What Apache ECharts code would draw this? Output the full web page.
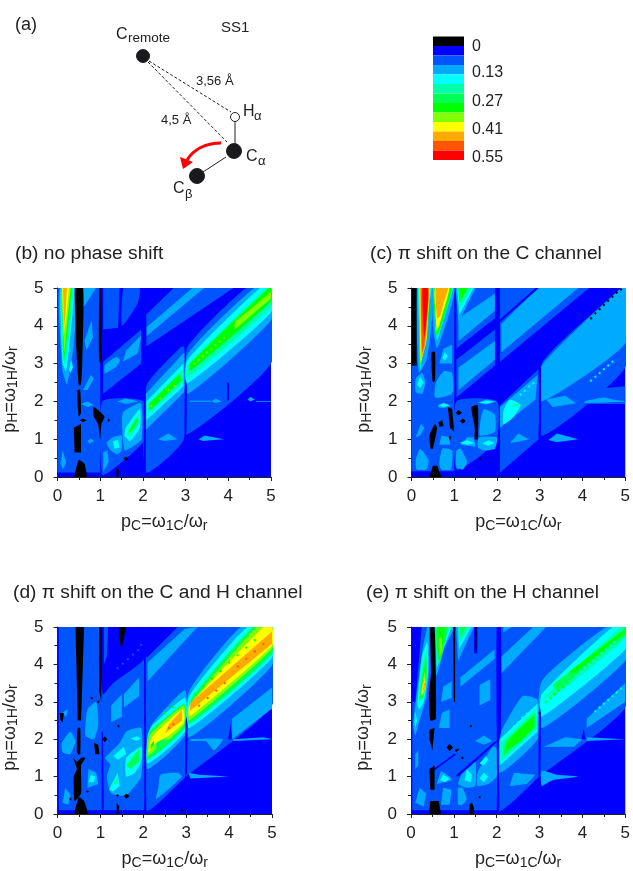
<!DOCTYPE html>
<html><head><meta charset="utf-8">
<style>html,body{margin:0;padding:0;background:#fff}#c{width:633px;height:871px;filter:blur(0.35px)}</style>
<script src="https://cdn.jsdelivr.net/npm/echarts@6/dist/echarts.min.js"></script>
</head><body><div id="c"></div>
<script>
const bandColors=['#000000','#0000ff','#0055ff','#00aaff','#00ffff','#00ffaa','#00ff55','#00ff00','#80ff00','#ffff00','#ffaa00','#ff5500','#ff0000'];
const legendTicks=[0,0.13,0.27,0.41,0.55];
const legendEdges=[-0.051,-0.004,0.043,0.09,0.137,0.184,0.231,0.278,0.325,0.372,0.419,0.466,0.513,0.56];
// contour regions, painted in order: [band, x,y, x,y, ...]; three entries = a small spot [band,x,y]
const contourB=[
[2,0,0.12,1.0,0.12,1.0,5,0,5],
[2,1.05,0.05,1.35,0.25,2.02,0.95,2.02,2.0,1.05,2.0],
[2,1.07,2.2,1.96,3.0,1.96,3.9,1.07,3.05],
[2,1.07,3.9,1.07,5,1.45,5,1.42,3.95],
[2,1.55,5,1.92,5,1.88,4.6,1.6,4.1,1.5,4.0],
[2,3.02,1.12,5,3.0,5,5,4.42,5,3.05,3.45,3.03,2.4],
[2,2.08,0.12,2.96,1.0,2.97,3.45,2.85,3.4,2.08,2.4],
[2,2.08,3.45,2.08,4.3,2.72,5,4.12,5],
[3,0.05,5,0.45,5,0.38,3.5,0.3,2.9,0.22,2.45,0.12,2.8,0.07,3.5],
[3,0.6,5,0.9,5,0.65,4.55,0.6,4.5],[3,0.63,3.6,0.8,4.15,0.83,3.7,0.68,3.35],
[3,0.6,2.3,0.78,2.7,0.85,2.6,0.7,2.3],[3,0.55,1.93,0.7,2.0,0.85,1.9,0.7,1.85],
[3,0.07,0.35,0.12,0.7,0.2,0.4,0.13,0.2],[3,0.7,0.95,0.78,1.02,0.85,0.95,0.75,0.88],
[3,1.07,0.13,1.07,0.65,1.17,0.7,1.2,0.4],[3,1.15,0.9,1.3,1.05,1.5,1.1,1.5,0.7,1.4,0.6,1.25,0.7],
[3,1.11,2.74,1.38,2.92,1.46,3.09,1.38,3.18,1.11,2.96],[3,1.53,3.05,1.88,3.27,1.96,3.75,1.61,3.35],
[3,1.53,1.7,1.95,1.95,1.97,1.0,1.75,0.8,1.58,0.7,1.53,1.0],
[3,2.07,1.25,2.97,2.25,2.97,3.3,2.07,2.2],
[3,3.04,2.2,5,4.15,5,5,4.6,5,3.05,3.25],
[3,2.09,3.73,2.09,3.97,3.16,5,3.43,5],
[3,1.4,2.0,1.6,2.08,1.9,2.0,1.6,1.93],[3,2.35,1.0,2.6,1.15,2.8,1.0,2.5,0.95],[3,3.3,1.0,3.45,1.1,3.9,1.0,3.4,0.95],
[3,3.6,2.0,3.7,2.08,3.85,2.0,3.7,1.96],[3,4.45,2.05,4.52,2.12,4.62,2.05,4.52,2.0],[3,3.1,2.02,3.6,2.02,3.6,1.99,3.1,1.99],[3,4.65,2.01,5,2.01,5,1.99,4.65,1.99],
[4,0.08,5,0.38,5,0.28,3.5,0.2,2.8,0.12,3.0],[4,0.27,2.85,0.33,3.1,0.36,2.9,0.3,2.75],
[4,1.3,0.95,1.42,0.98,1.45,0.78,1.33,0.75],[4,1.57,1.1,1.6,1.3,1.93,1.8,1.93,1.3,1.7,0.95],
[4,2.08,1.5,2.95,2.4,2.95,3.0,2.08,2.0],[4,3.04,2.47,5,4.35,5,5,4.74,5,3.04,3.09],
[5,0.09,5,0.35,5,0.26,3.7,0.17,2.95,0.12,3.3],[5,1.62,1.15,1.9,1.7,1.9,1.4,1.7,1.05],
[5,2.1,1.65,2.95,2.5,2.93,2.85,2.1,1.9],[5,3.04,2.62,5,4.5,5,5,4.88,5,3.05,2.95],
[7,0.1,5,0.33,5,0.24,3.9,0.15,3.05],[7,1.65,1.2,1.85,1.55,1.87,1.47,1.72,1.2],
[7,2.15,1.75,2.9,2.55,2.85,2.72,2.15,1.95],[7,3.1,2.8,5,4.65,5,5,4.95,5,3.1,3.0],
[8,0.1,5,0.31,5,0.22,4.0,0.16,3.3],[8,4.15,3.9,5,4.72,5,4.9,4.15,4.1],
[8,3.2,3.0],[8,3.3,3.1],[8,3.4,3.2],[8,3.5,3.3],[8,3.6,3.38],[8,3.7,3.48],[8,3.8,3.58],[8,3.9,3.68],[8,2.2,1.88],[8,2.4,2.08],[8,2.6,2.3],[8,2.75,2.4],
[9,0.11,5,0.27,5,0.2,4.2,0.14,3.7],[10,0.13,5,0.22,5,0.18,4.2,0.15,3.9],
[1,2.02,5,2.05,5,2.07,0.1,2.03,0.1,2.02,2.4],[1,2.98,0.95,3.02,1.1,3.03,2.4,3.0,2.6,2.98,2.3],[1,3.97,2.5,4.02,2.5,4.02,2.05,3.98,2.0],
[0,0.41,5,0.6,5,0.58,3.0,0.55,2.45,0.5,2.42,0.46,3.0],[0,0.47,2.3,0.53,2.3,0.55,1.7,0.5,1.6,0.47,1.9],
[0,0.38,1.3,0.55,1.4,0.55,0.65,0.4,0.65],[0,0.4,0,0.68,0,0.63,0.35,0.5,0.45,0.43,0.2],[0,0.52,1.5,0.6,1.55,0.68,1.5,0.6,1.45],
[0,0.98,5,1.02,5,1.03,3.1,1.0,3.0,0.97,3.2],[0,0.85,1.85,1.1,1.6,1.03,1.4,1.0,1.0,0.95,1.4,0.85,1.6],
[0,1.17,1.5,1.2,1.54,1.23,1.5,1.2,1.46],[0,1.38,0.25,1.44,0.15,1.42,0,1.38,0],[0,1.55,0.48,1.6,0.54,1.66,0.48,1.6,0.43]
];
const contourC=[
[2,0,0.15,1.0,0.15,1.0,5,0,5],
[2,1.05,0.2,1.6,0.55,2,1.0,2,2.0,1.05,2.0],
[2,1.05,2.1,1.95,2.95,1.95,3.9,1.05,3.1],
[2,1.05,3.4,1.95,4.2,1.95,5,1.05,5],
[2,2.07,3.05,2.07,5,4.15,5],
[2,3.05,1.1,5,2.9,5,5,4.92,5,3.05,3.0],
[2,2.07,0.12,2.97,1.0,2.97,2.85,2.07,1.9],
[2,3.05,1.85,3.9,2.3,3.9,1.85],[2,4.05,1.93,4.05,2.3,5,2.4,5,1.93],
[3,0.13,5,0.5,5,0.45,3.8,0.35,3.1,0.18,2.75,0.15,3],[3,0.5,5,1.0,5,0.9,4.4,0.6,3.4,0.52,3.8],
[3,1.03,5,1.5,5,1.1,4.1],[3,1.1,3.6,1.95,4.4,1.95,4.85,1.1,4.2],
[3,1.1,2.3,1.95,3.1,1.95,3.6,1.1,2.9],
[3,2.1,3.3,2.1,4.05,2.95,5,3.9,5],
[3,3.05,2.0,5,3.53,5,5,4.9,5,3.05,2.95],
[3,2.07,1.3,2.9,2.05,2.95,2.7,2.07,1.85],
[3,0.65,3.0,0.75,3.4,0.95,3.5,0.95,3.0],[3,0.1,2.6,0.25,2.75,0.32,2.5,0.25,2.2,0.1,2.25],
[3,0.55,2.1,0.57,2.5,0.75,2.8,0.95,2.75,0.95,2.2],[3,0.6,1.85,0.75,1.97,0.92,1.88,0.75,1.82],
[3,0.1,0.45,0.2,0.75,0.4,0.45,0.35,0.2,0.12,0.2],[3,0.65,0.35,0.72,0.75,0.95,0.7,0.92,0.2,0.7,0.2],
[3,1.05,0.25,1.05,0.7,1.15,0.75,1.3,0.4,1.2,0.2],[3,0.65,0.85,0.7,1.1,0.9,1.05,0.9,0.85],
[3,1.15,0.85,1.3,1.05,1.45,1.05,1.5,0.8],[3,1.55,0.78,1.58,1.05,2.0,1.05,1.95,0.75,1.7,0.7],
[3,1.6,1.1,1.62,1.55,1.7,1.8,1.95,1.65,1.95,1.2],[3,1.55,1.97,1.75,2.05,1.98,2.0,1.75,1.92],
[3,0.1,1.05,0.22,1.4,0.3,1.3,0.2,1.1],[3,2.3,0.9,2.5,1.15,2.75,1.0,2.5,0.93],[3,3.2,0.98,3.4,1.15,3.9,1.0,3.4,0.92],
[3,3.15,2.05,3.6,2.15,3.85,1.95,3.3,1.85],[3,4.05,2,4.5,2.1,4.7,2.05,5,2,4.05,1.96],
[4,0.15,5,0.47,5,0.2,2.8],[4,0.51,5,0.98,5,0.6,3.6,0.55,3.9],[4,1.07,5,1.45,5,1.12,4.3],
[4,0.72,3.15,0.78,3.3,0.85,3.2,0.78,3.08],[4,0.13,2.45,0.2,2.65,0.28,2.5,0.2,2.35],[4,0.62,1.9,0.75,1.95,0.9,1.9,0.75,1.85],
[4,1.12,0.9,1.3,0.97,1.48,0.9,1.3,0.85],[4,1.65,0.88,1.8,0.97,1.95,0.9,1.8,0.83],[4,1.58,1.97,1.75,2.02,1.95,2,1.75,1.94],
[4,2.15,1.4,2.35,1.55,2.55,1.9,2.3,2.05,2.15,1.75],[4,4.2,2.55],[4,4.3,2.65],[4,4.4,2.75],[4,4.5,2.85],[4,4.6,2.95],[4,4.7,3.05],[4,2.55,2.18],[4,2.65,2.28],[4,2.75,2.4],[4,2.85,2.48],
[5,2.35,1.85,2.6,1.9,2.4,1.95],[5,0.17,5,0.45,5,0.2,2.9],[5,1.09,5,1.4,5,1.12,4.45],[5,0.52,5,0.96,5,0.6,3.65,0.56,3.95],
[7,0.17,5,0.44,5,0.38,3.8,0.2,2.95],[7,0.53,5,0.93,5,0.75,4.2,0.6,3.72,0.56,4],[7,1.1,5,1.32,5,1.12,4.6],
[9,0.18,5,0.43,5,0.35,3.6,0.21,3.0],[9,0.55,5,0.88,5,0.72,4.3,0.6,3.85,0.57,4.2],
[10,0.2,5,0.42,5,0.33,3.5,0.23,3.1],[10,0.57,5,0.85,5,0.75,4.6,0.67,4.25,0.6,4.2],
[11,0.23,5,0.4,5,0.35,4,0.3,3.5,0.25,3.3],[12,0.26,5,0.38,5,0.37,4.4,0.3,3.7,0.27,4.2],
[1,2.0,5,2.06,5,2.06,2.2,2.03,1.9,2.02,3.0],[1,2.98,0.95,3.03,1.1,3.03,2.9,2.98,2.9],[1,2.02,4.05,2.05,4.15,2.9,5,2.98,5],
[0,0,2.95,0.12,2.95,0.12,5,0,5],[0,0.47,3.3,0.55,3.3,0.55,2.55,0.5,2.5,0.47,2.9],
[0,0.42,1.1,0.55,1.4,0.6,1.3,0.5,0.75,0.45,0.75],[0,0.42,0,0.7,0,0.6,0.3,0.5,0.3],
[0,0.85,1.85,0.95,1.8,1,1.2,0.9,1.3],[0,0.63,1.45,0.72,1.5,0.75,1.35,0.65,1.32],[0,1.03,1.7,1.1,1.77,1.18,1.7,1.1,1.63],[0,1.13,1.48,1.2,1.55,1.27,1.48,1.2,1.41],
[0,1.4,1.85,1.55,1.9,1.55,1.0,1.48,1.0,1.48,1.3],[0,0.9,1.1,0.93,1.05,0.9,0.95,0.87,1.05],
[0,4.2,4.2],[0,4.3,4.33],[0,4.4,4.44],[0,4.5,4.55],[0,4.6,4.66],[0,4.7,4.77],[0,4.8,4.88],[0,4.9,4.96],[0,1.6,0.48]
];
const contourD=[
[2,0.03,0.1,2.02,0.1,2.02,5,0.03,5],
[2,2.07,0.1,3,1,5,2.9,5,5,2.07,5],
[1,1.05,5,2.02,5,2.02,4.15,1.3,3.5,1.05,3.2],[1,2.05,5,2.8,5,2.1,4.2,2.05,4.2],
[2,1.08,5,1.18,5,1.15,4.2,1.08,4],
[2,1.4,3.9],[2,1.52,4.02],[2,1.64,4.14],[2,1.76,4.26],[2,1.88,4.38],[2,1.95,4.52],
[3,3.07,2.05,5,3.97,5,5,4.27,5,3.07,3.28],
[3,2.1,1.2,2.97,2.1,2.97,3.3,2.2,2.4,2.1,2.0],
[3,2.1,3.55,2.1,4.05,2.97,4.95,3.26,5],
[3,4.07,2.0,4.07,2.55,5,3.38,5,2.82],
[3,3.1,2.0,3.85,2.0,3.65,1.7,3.45,1.95,3.1,1.95],[3,4.1,2.0,4.8,2.05,5,2,4.1,1.95],
[3,2.3,0.4,2.9,1.0,2.8,1.1,2.4,1.05,2.35,0.7],[3,3.05,1.1,3.3,1.05,4,1.0,3.1,0.95],
[3,1.25,0.55,1.6,0.5,1.95,1.0,1.95,2.3,1.6,2.2,1.3,1.5,1.15,1.0],
[3,0.7,0.7,0.72,1.2,0.9,1.1,0.95,0.8],[3,0.1,1.9,0.3,2.2,0.42,1.95,0.3,1.6,0.12,1.65],
[3,0.65,2.1,0.7,2.8,0.9,3.0,0.95,2.4,0.85,2.0],[3,1.25,2.9,1.5,3.2,1.5,2.6,1.25,2.45],[3,1.55,3.2,1.9,3.65,1.9,3.15,1.55,2.85],
[3,0.12,0.3,0.18,0.7,0.3,0.5,0.25,0.25],[3,1.1,1.5,1.45,1.9,1.55,1.6,1.25,1.3],[3,0.1,2.7,0.25,2.8,0.2,2.6],
[4,3.07,2.3,5,4.18,5,5,4.42,5,3.07,3.15],[4,2.1,1.35,2.97,2.2,2.97,3.1,2.2,2.35,2.1,2.1],
[4,1.6,1.0,1.6,1.5,1.95,1.8,1.95,1.4,1.8,1.1],[4,1.7,2.02,1.85,2.08,1.95,2.02,1.85,1.96],[4,1.2,0.65,1.4,1.1,1.45,0.75,1.3,0.6],[4,0.72,0.85,0.78,1.05,0.88,1.0,0.85,0.85],[4,1.3,1.55,1.55,1.8,1.6,1.6,1.4,1.45],
[6,3.07,2.4,5,4.28,5,5,4.55,5,3.1,3.05],[6,2.1,1.45,2.97,2.3,2.97,2.95,2.6,2.65,2.15,2.2],[6,1.6,1.3,1.9,1.75,1.9,1.4,1.7,1.2],
[5,1.27,0.8,1.4,1.0,1.42,0.8],
[8,3.07,2.5,5,4.42,5,5,4.65,5,3.1,2.95],[8,2.1,1.55,2.3,1.75,2.3,2.0,2.6,2.0,2.95,2.4,2.95,2.9,2.5,2.5,2.15,2.1],
[9,3.07,2.6,5,4.5,5,5,4.8,5,3.07,2.9],[9,2.12,1.65,2.3,1.9,2.6,2.1,2.95,2.45,2.92,2.8,2.5,2.4,2.2,2.05],
[7,2.17,1.72,2.25,1.85,2.25,1.97,2.17,1.85],
[10,3.08,2.75,5,4.55,5,4.88,3.1,2.98],[10,2.5,2.15,2.9,2.5,2.9,2.78,2.6,2.4],
[11,2.6,2.3],[11,2.7,2.4],[11,3.3,2.9],[11,3.5,3.1],[11,3.7,3.3],[11,3.9,3.5],[11,4.2,3.95],[11,4.4,4.15],[11,4.6,4.35],[11,4.8,4.55],
[7,2.5,2.7],[7,2.7,2.85],[7,3.2,3.2],[7,3.4,3.42],[7,3.6,3.62],[7,3.8,3.82],[7,4.0,4.05],[7,4.2,4.25],[7,4.4,4.45],[7,4.6,4.65],
[1,2.02,5,2.05,5,2.07,0.1,2.03,0.1,2.02,2.3],[1,2.98,0.95,3.02,1.1,3.03,2.4,3.0,2.6,2.98,2.3],[1,1.03,0.1,1.08,0.1,1.06,2.2,1.03,2.2],[1,3.98,2.0,4.03,2.4,4.07,2.0],
[0,0.42,5,0.62,5,0.55,2.5,0.47,2.5],[0,0.47,2.3,0.53,2.3,0.53,1.6,0.48,1.6,0.45,1.7],
[0,0.37,1.5,0.45,1.4,0.55,1.5,0.65,1.5,0.55,1.3,0.55,0.55,0.4,0.35,0.38,1.0,0.45,1.2],
[0,0.4,0,0.7,0,0.62,0.35,0.5,0.45,0.43,0.2],[0,0.97,5,1.03,5,1.02,3.0,0.97,3.3],[0,0.85,1.9,0.95,1.85,0.98,1.6,0.88,1.6],
[0,0.05,2.7,0.15,2.7,0.12,2.45,0.07,2.5],[0,1.43,5,1.6,5,1.5,4.45,1.47,4.5],[0,1.05,2,1.1,2.08,1.16,2,1.1,1.92],
[0,1.55,0.48,1.6,0.55,1.68,0.48,1.6,0.4],[0,1.38,0.3,1.44,0.2,1.42,0,1.38,0],[0,0.7,0.6],[0,0.3,0.4],[0,0.8,3.1],[0,0.95,3.0],[0,2.9,0.1],[0,1.4,0.5],[0,1.42,2.35]
];
const contourE=[
[2,0.03,0.1,2.0,0.1,2.0,5,0.03,5],
[2,2.05,0.1,3,1.0,5,2.85,5,5,2.05,5],
[3,3.05,2.3,5,4.1,5,5,4.55,5,3.05,3.55],
[3,2.07,1.1,2.95,2.0,2.95,3.05,2.6,3.15,2.07,2.1],
[3,2.1,3.75,3.15,5,2.85,5,2.1,4.2],[3,2.15,5,2.35,5,2.15,4.85],
[3,1.6,3.45,1.85,3.6,1.85,3.05,1.6,2.9],[3,1.15,3.65,1.95,4.4,1.95,4.15,1.15,3.4],
[3,4.1,2.3,5,3.0,5,3.5,4.1,2.55],
[3,3.1,1.8,3.6,2.05,4.0,2.0,3.8,1.8],[3,4.1,2.05,5,2.0,4.1,1.95],[3,3.05,1.15,3.4,1.05,3.9,1.0,3.3,0.9,3.05,0.75],
[3,2.3,0.75,2.4,1.1,2.9,1.05,2.7,0.8],
[3,0.05,2.4,0.1,2.9,0.27,4.4,0.38,5,0.42,5,0.42,3.8,0.35,3.1,0.15,2.3,0.1,2.1],
[3,0.55,5,1,5,0.8,4.5,0.6,3.7,0.55,3.9],[3,1.05,5,1.47,5,1.1,4.1],
[3,0.65,2.3,0.72,2.7,0.9,2.8,0.9,2.3],[3,0.7,3.0,0.75,3.4,0.95,3.55,0.95,3.1],[3,0.1,1.2,0.1,1.6,0.17,1.7,0.17,1.3],
[3,0.1,0.3,0.2,0.7,0.35,0.55,0.3,0.2],[3,0.7,0.25,0.75,0.7,0.95,0.65,0.9,0.25],
[3,0.6,0.8,0.7,1.15,0.9,1.0,0.95,0.9],[3,1.1,0.25,1.1,0.7,1.2,0.7,1.3,0.4,1.2,0.25],
[3,1.1,0.8,1.25,1.2,1.5,1.4,1.5,0.75,1.3,0.7],[3,1.55,0.75,1.55,1.1,1.9,1.8,2,1.75,2,1.0,1.8,0.8],[3,1.5,1.95,1.7,2.1,1.9,1.95,1.7,1.85],
[4,3.05,2.6,5,4.4,5,5,4.7,5,3.05,3.2],[4,2.07,1.3,2.95,2.2,2.95,2.95,2.07,2.0],
[4,0.15,2.9,0.25,4.2,0.38,4.6,0.4,3.8,0.3,3.0,0.2,2.8],[4,0.08,2.45,0.1,2.75,0.14,2.5,0.1,2.3],
[4,0.57,5,0.95,5,0.75,4.4,0.6,3.9],[4,1.1,5,1.4,5,1.12,4.4],
[4,1.25,0.9,1.3,1.2,1.42,1.05,1.4,0.85],[4,0.68,0.9,0.75,1.05,0.9,0.95,0.8,0.85],[4,1.6,0.95,1.7,1.1,1.8,1.0,1.7,0.85],[4,1.6,1.35,1.75,1.55,1.8,1.45,1.7,1.3],
[4,4.3,2.75],[4,4.4,2.85],[4,4.5,2.95],[4,4.6,3.05],[4,4.7,3.15],[4,4.8,3.25],[4,4.9,3.35],[4,2.4,2.35],[4,2.5,2.45],[4,2.6,2.58],[4,2.7,2.68],[4,2.8,2.75],
[5,2.1,1.4,2.95,2.3,2.9,2.8,2.1,1.9],[5,3.1,3.1,4.9,5,5,5,5,4.7,3.4,3.2],[5,0.18,3.0,0.27,4.0,0.37,4.4,0.38,3.8,0.28,3.1],[5,0.6,5,0.9,5,0.75,4.45,0.62,4.0],[5,1.12,5,1.35,5,1.13,4.55],
[5,0.09,2.5,0.1,2.68,0.13,2.5,0.1,2.38],
[6,2.15,1.55,2.9,2.35,2.9,2.7,2.2,1.95],[6,3.3,3.45,5,4.95,5,4.78,3.4,3.28],[6,0.2,3.05,0.28,3.85,0.36,4.2,0.36,3.6,0.27,3.1],[6,0.6,5,0.85,5,0.75,4.4,0.65,4.0,0.6,4.3],[6,1.13,5,1.3,5,1.13,4.7],
[7,2.2,1.7,2.5,1.9,2.85,2.3,2.85,2.6,2.3,2.0],[7,3.7,3.82,5,4.95,5,4.85,3.8,3.75],[7,0.22,3.1,0.28,3.7,0.35,4.0,0.34,3.5,0.27,3.15],[7,0.63,5,0.78,5,0.73,4.4,0.66,4.1,0.63,4.4],
[8,0.23,3.15,0.28,3.6,0.33,3.8,0.33,3.4,0.27,3.18],[8,0.65,4.7,0.72,4.7,0.73,4.4,0.67,4.2],
[9,0.25,3.2,0.29,3.55,0.33,3.65,0.32,3.35,0.27,3.2],[10,0.27,3.25,0.3,3.5,0.33,3.5,0.31,3.3],
[7,3.15,3.0],[7,3.25,3.1],[7,3.35,3.2],[7,3.45,3.3],[7,3.55,3.4],[7,3.65,3.5],[4,3.85,3.7],[4,3.95,3.8],[4,4.05,3.9],[4,4.15,4.0],[4,4.25,4.1],[4,4.35,4.2],[4,4.45,4.3],[4,4.55,4.4],[4,4.65,4.5],[4,4.75,4.6],
[1,2.0,5,2.1,5,2.1,2.2,2.05,1.9,2.06,0.1,2.02,0.1,2.0,2.3],[1,2.98,0.95,3.02,1.1,3.03,2.7,3.0,2.9,2.98,2.5],[1,0.02,3,0.02,5,0.25,5,0.1,3],[1,1.47,5,1.55,5,1.55,4.3,1.47,4.3],[1,3.98,2.0,4.03,2.3,4.07,2.0],[1,0.4,1.1,1.02,1.62,1.04,1.58,0.45,1.08],[1,1.05,1.03,1.6,1.58,2,1.97,2.0,1.92,1.1,1.0],
[0,0.45,5,0.55,5,0.58,2.55,0.45,2.5,0.42,3.2,0.47,3.8],[0,0.43,2.25,0.55,2.3,0.5,1.7,0.43,2.0],
[0,0.43,1.2,0.55,1.3,0.55,0.65,0.45,0.65],[0,0.42,0,0.7,0,0.65,0.35,0.45,0.35],
[0,0.98,5,1.03,5,1.03,3.0,1,3.0],[0,0.83,1.78,0.9,1.88,0.98,1.78,0.9,1.68],[0,1.02,1.72,1.15,1.75,1.05,1.65],
[0,1.37,0.25,1.42,0.3,1.47,0.15,1.45,0,1.37,0],[0,1.5,5,1.53,5,1.53,4.4,1.5,4.4],[0,1.6,0.45],[0,3.0,2.7],[0,1.4,2.35],[0,1.2,1.5]
];
const panels=[
 {title:'(b) no phase shift',titleLeft:15,titleTop:244,left:56,top:288,width:215,height:189,data:contourB},
 {title:'(c) π shift on the C channel',titleLeft:370,titleTop:244,left:411.5,top:288,width:215,height:189,data:contourC},
 {title:'(d) π shift on the C and H channel',titleLeft:13,titleTop:583,left:56,top:627,width:216,height:189,data:contourD},
 {title:'(e) π shift on the H channel',titleLeft:366,titleTop:583,left:411,top:627,width:215,height:189,data:contourE}
];
const nameRich={n:{fontSize:18,color:'#222',fontFamily:'Liberation Sans'},s:{fontSize:14,color:'#222',fontFamily:'Liberation Sans',padding:[7,0,0,0]}};
function panelAxis(name,gap,rot,margin,pad){return {type:'value',min:0,max:5,interval:1,name:name,nameLocation:'middle',nameGap:gap,nameRotate:rot,nameTextStyle:{rich:nameRich,padding:pad},
 axisLine:{show:true,onZero:false,lineStyle:{color:'#222',width:1}},axisTick:{show:true,length:4,inside:false,lineStyle:{color:'#222'}},
 minorTick:{show:true,splitNumber:2,length:3,lineStyle:{color:'#222'}},splitLine:{show:false},minorSplitLine:{show:false},
 axisLabel:{color:'#222',fontSize:17,fontFamily:'Liberation Sans',margin:margin}};}
function polyRender(list){return function(params,api){
 const p=list[api.value(0)];let pts=[];
 if(p.length===3){const dx=0.033,dy=0.037;pts=[[p[1]-dx,p[2]],[p[1],p[2]+dy],[p[1]+dx,p[2]],[p[1],p[2]-dy]].map(q=>api.coord(q));}
 else for(let i=1;i<p.length;i+=2)pts.push(api.coord([p[i],p[i+1]]));
 return {type:'polygon',shape:{points:pts,smooth:pts.length>4?0.18:0},style:{fill:bandColors[p[0]]},silent:true};
};}
const grid=[],xAxis=[],yAxis=[],series=[],title=[];
panels.forEach((p,i)=>{
 grid.push({left:p.left,top:p.top,width:p.width,height:p.height,backgroundColor:'#0000ff',show:true,borderWidth:0});
 xAxis.push(panelAxis('{n|p}{s|C}{n|=ω}{s|1C}{n|/ω}{s|r}',35,0,11,0));xAxis[i].gridIndex=i;
 yAxis.push(panelAxis('{n|p}{s|H}{n|=ω}{s|1H}{n|/ω}{s|r}',37,90,14,[0,14,0,0]));yAxis[i].gridIndex=i;
 title.push({text:p.title,left:p.titleLeft,top:p.titleTop,padding:0,textStyle:{fontSize:19.2,fontWeight:'normal',color:'#222',fontFamily:'Liberation Sans'}});
 series.push({type:'custom',xAxisIndex:i,yAxisIndex:i,coordinateSystem:'cartesian2d',clip:true,animation:false,silent:true,encode:{x:1,y:2},
  renderItem:polyRender(p.data),data:p.data.map((q,k)=>[k,q[1],q[2]])});
});
// colour key
grid.push({left:433,top:36.5,width:31,height:123.5,show:false});
xAxis.push({type:'value',gridIndex:4,min:0,max:1,show:false});
yAxis.push({type:'value',gridIndex:4,min:legendEdges[0],max:legendEdges[13],inverse:true,position:'right',axisLine:{show:false},axisTick:{show:false},splitLine:{show:false},
 axisLabel:{customValues:legendTicks,color:'#222',fontSize:16,fontFamily:'Liberation Sans',margin:8,formatter:v=>String(v)}});
series.push({type:'custom',xAxisIndex:4,yAxisIndex:4,coordinateSystem:'cartesian2d',animation:false,silent:true,encode:{y:1},
 renderItem:function(params,api){const i=api.value(0);const a=api.coord([0,legendEdges[i]]),b=api.coord([1,legendEdges[i+1]]);
  return {type:'rect',shape:{x:a[0],y:a[1],width:b[0]-a[0],height:b[1]-a[1]},style:{fill:bandColors[i]}};},
 data:bandColors.map((c,i)=>[i,legendEdges[i]])});
const txt=(x,y,t,size)=>({type:'text',x:x,y:y,style:{text:t,fontSize:size||14,fontFamily:'Liberation Sans',fill:'#222',textVerticalAlign:'middle'}});
const line=(x1,y1,x2,y2,dash,w)=>({type:'line',shape:{x1,y1,x2,y2},style:{stroke:'#222',lineWidth:w||1,lineDash:dash?[3,2]:null}});
const dot=(x,y,r,fill)=>({type:'circle',shape:{cx:x,cy:y,r:r},style:{fill:fill,stroke:'#222',lineWidth:1}});
const graphic=[
 txt(15,25,'(a)',18),txt(221,28,'SS1',15),
 txt(116,35,'C',16),txt(128,38,'remote',13.5),
 txt(196,81,'3,56 Å',13),txt(161,120,'4,5 Å',13),
 txt(243,112,'H',16),txt(254,116,'α',13),txt(246,157,'C',16),txt(258,161,'α',13),txt(173,189,'C',16),txt(185,194,'β',13),
 line(149,61,231,112,true),line(148,62,227,142,true),line(235,122,235,146),line(226,157,203,172),
 dot(143,56,6.5,'#1a1a1e'),dot(235,117,4.5,'#fff'),dot(234,151,7.5,'#1a1a1e'),dot(197,176,7.5,'#1a1a1e'),
 {type:'bezierCurve',shape:{x1:221,y1:143,cpx1:205,cpy1:143,cpx2:193,cpy2:150,x2:187,y2:160},style:{fill:'none',stroke:'#f00',lineWidth:3}},
 {type:'polygon',shape:{points:[[180,157],[193,162],[183,169]]},style:{fill:'#f00'}}
];
const chart=echarts.init(document.getElementById('c'),null,{renderer:'canvas',width:633,height:871});
chart.setOption({animation:false,backgroundColor:'#fff',title,grid,xAxis,yAxis,series,graphic});
</script></body></html>
